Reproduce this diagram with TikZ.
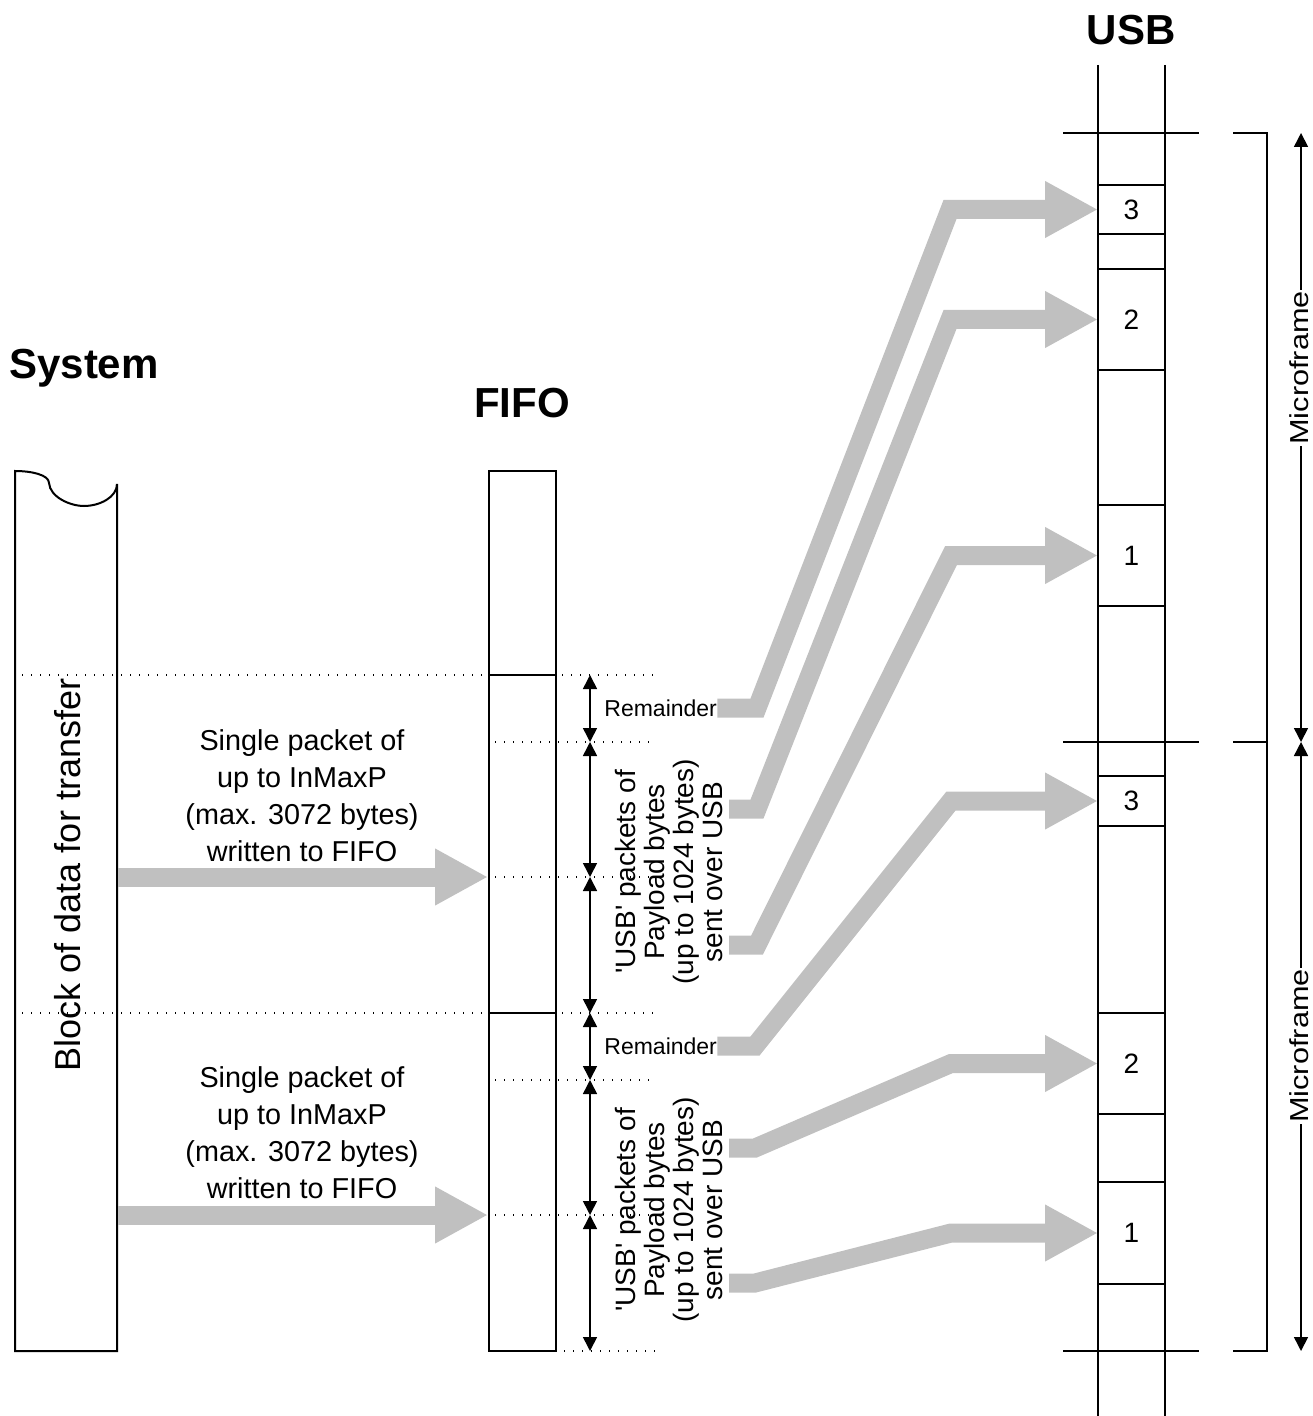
\documentclass[tikz,border=0pt]{standalone}
\usepackage{fontspec}
\setmainfont{Liberation Sans}
\usetikzlibrary{arrows.meta}
\definecolor{agray}{RGB}{192,192,192}
\begin{document}
\begin{tikzpicture}[x=0.5pt,y=-0.5pt,
  bline/.style={line width=1pt},
  dotline/.style={line width=0.7pt, dash pattern=on 0.7pt off 3.8pt},
  garrow/.style={draw=agray, line width=9.5pt, line join=miter, -{Triangle[length=26.5pt,width=26.5pt]}},
  dimarrow/.style={line width=0.8pt, {Triangle[length=7pt,width=7pt]}-{Triangle[length=7pt,width=7pt]}},
  slot/.style={draw, line width=1pt, minimum width=33.5pt, inner sep=0pt, outer sep=0pt, font=\fontsize{14}{14}\selectfont},
  title/.style={font=\fontsize{21}{22}\selectfont\bfseries},
  desc/.style={align=center, font=\fontsize{14.4}{18.5}\selectfont},
  rdesc/.style={align=center, rotate=90, font=\fontsize{14}{14.5}\selectfont},
  remtext/.style={anchor=west, inner sep=0pt, font=\fontsize{11.5}{12}\selectfont},
  mftext/.style={rotate=90, fill=white, inner sep=0.5pt, font=\fontsize{13}{14}\selectfont},
]
\useasboundingbox (0,0) rectangle (1312,1416);

% titles
\node[title] (tsys) at (84,368) {System};
\node[title] (tfifo) at (522,403) {FIFO};
\node[title] (tusb) at (1131,30) {USB};

% dotted guide lines
\draw[dotline] (22,675) -- (655,675);
\draw[dotline] (22,1013) -- (655,1013);
\draw[dotline] (495,742) -- (655,742);
\draw[dotline] (495,877) -- (655,877);
\draw[dotline] (495,1080) -- (655,1080);
\draw[dotline] (495,1215) -- (655,1215);
\draw[dotline] (564,1351) -- (655,1351);

% system block
\draw[bline, fill=white] (15,1351) -- (15,471) .. controls (32,471) and (49,475) .. (49,483)
  .. controls (50,497) and (70,506) .. (84,506) .. controls (100,506) and (117,497) .. (117,484)
  -- (117,1351) -- cycle;
\draw[dotline] (22,675) -- (117,675);
\draw[dotline] (22,1013) -- (117,1013);
\node[rotate=90, font=\fontsize{18}{20}\selectfont] (blk) at (68,875) {Block of data for transfer};

% FIFO
\draw[bline] (489,471) rectangle (556,1351);
\draw[bline] (489,675) -- (556,675);
\draw[bline] (489,1013) -- (556,1013);

% dimension arrows
\coordinate (d0) at (590,675);
\coordinate (d1) at (590,742);
\coordinate (d2) at (590,877);
\coordinate (d3) at (590,1013);
\coordinate (d4) at (590,1080);
\coordinate (d5) at (590,1215);
\coordinate (d6) at (590,1351);
\draw[dimarrow] (d0) -- (d1);
\draw[dimarrow] (d1) -- (d2);
\draw[dimarrow] (d2) -- (d3);
\draw[dimarrow] (d3) -- (d4);
\draw[dimarrow] (d4) -- (d5);
\draw[dimarrow] (d5) -- (d6);

\node[remtext] (rem1) at (604,708) {Remainder};
\node[remtext] (rem2) at (604,1046) {Remainder};
\node[rdesc] (pk1) at (669,872) {\textquotesingle USB\textquotesingle{} packets of\\Payload bytes\\(up to 1024 bytes)\\sent over USB};
\node[rdesc] (pk2) at (669,1210) {\textquotesingle USB\textquotesingle{} packets of\\Payload bytes\\(up to 1024 bytes)\\sent over USB};

\node[desc] (w1) at (302,796) {Single packet of\\up to InMaxP\\(max. 3072 bytes)\\written to FIFO};
\node[desc] (w2) at (302,1133) {Single packet of\\up to InMaxP\\(max. 3072 bytes)\\written to FIFO};

% USB lane
\draw[bline] (1098,65) -- (1098,1416);
\draw[bline] (1165,65) -- (1165,1416);
\draw[bline] (1063,133) -- (1199,133);
\draw[bline] (1063,742) -- (1199,742);
\draw[bline] (1063,1351) -- (1199,1351);

\node[slot, minimum height=24.5pt] (s3a) at (1131.5,209.5) {3};
\node[slot, minimum height=50.5pt] (s2a) at (1131.5,319.5) {2};
\node[slot, minimum height=50.5pt] (s1a) at (1131.5,555.5) {1};
\node[slot, minimum height=25pt] (s3b) at (1131.5,801) {3};
\node[slot, minimum height=50.5pt] (s2b) at (1131.5,1063.5) {2};
\node[slot, minimum height=51pt] (s1b) at (1131.5,1233) {1};

% brackets and microframe arrows
\draw[bline] (1233,133) -- (1267,133) -- (1267,742) -- (1233,742);
\draw[bline] (1267,742) -- (1267,1351) -- (1233,1351);
\coordinate (m0) at (1301,133);
\coordinate (m1) at (1301,742);
\coordinate (m2) at (1301,1351);
\draw[dimarrow] (m0) -- (m1);
\draw[dimarrow] (m1) -- (m2);
\node[mftext] (mf1) at (1299,368) {\scalebox{1.18}[1]{Microframe}};
\node[mftext] (mf2) at (1299,1046) {\scalebox{1.18}[1]{Microframe}};

% gray transfer arrows
\coordinate (sysA) at (118,877);
\coordinate (fifoA) at (488,877);
\coordinate (sysB) at (118,1215);
\coordinate (fifoB) at (488,1215);
\draw[garrow] (sysA) -- (fifoA);
\draw[garrow] (sysB) -- (fifoB);

\coordinate (pa1) at (729,809);
\coordinate (pa2) at (729,945);
\coordinate (pb1) at (729,1148);
\coordinate (pb2) at (729,1283);
\draw[garrow] (rem1.east) -- (757,708) -- (950,209.5) -- (s3a.west);
\draw[garrow] (pa1) -- (757,809) -- (950,319.5) -- (s2a.west);
\draw[garrow] (pa2) -- (757,945) -- (951,555.5) -- (s1a.west);
\draw[garrow] (rem2.east) -- (755,1046) -- (951,801) -- (s3b.west);
\draw[garrow] (pb1) -- (755,1148) -- (951,1063.5) -- (s2b.west);
\draw[garrow] (pb2) -- (755,1283) -- (951,1233) -- (s1b.west);
\end{tikzpicture}
\end{document}
